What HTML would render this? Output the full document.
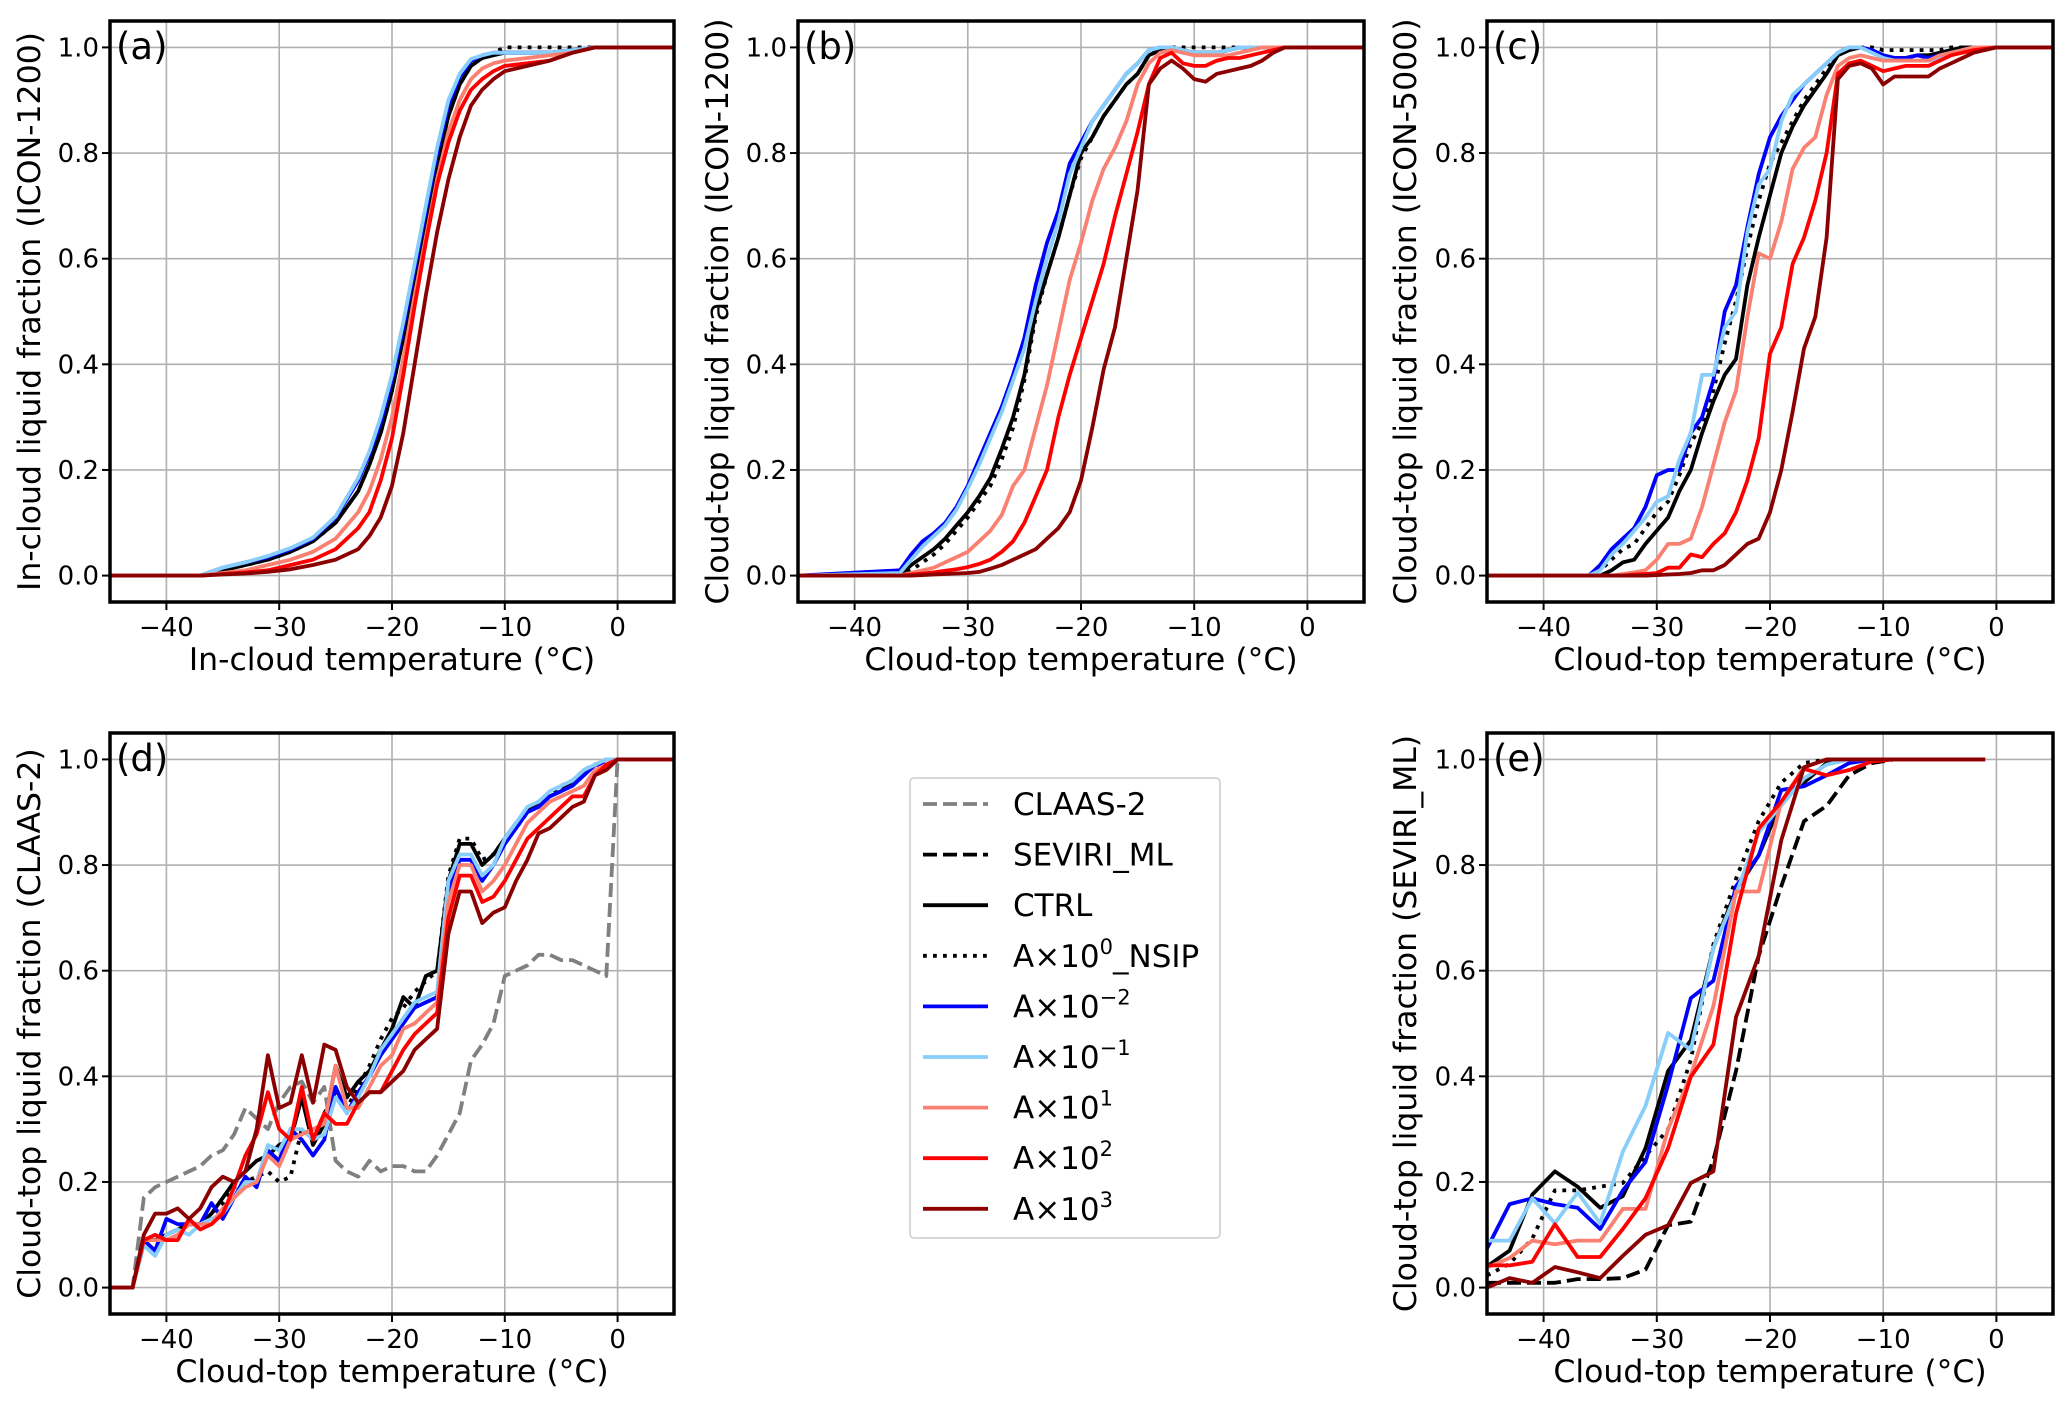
<!DOCTYPE html>
<html><head><meta charset="utf-8"><style>
html,body{margin:0;padding:0;background:#fff;}
svg{display:block;font-family:"DejaVu Sans","Liberation Sans",sans-serif;}
</style></head><body>
<svg id="fig" width="2067" height="1406" viewBox="0 0 2067 1406" xmlns="http://www.w3.org/2000/svg"></svg>
<script>
// ---- data ----
const xsA = [-45,-37,-35,-33,-31,-29,-27,-25,-23,-22,-21,-20,-19,-18,-17,-16,-15,-14,-13,-12,-11,-10,-8,-6,-4,-2,5];
const aCTRL = [0,0,0.01,0.02,0.03,0.045,0.065,0.1,0.16,0.21,0.27,0.35,0.45,0.56,0.67,0.78,0.87,0.93,0.965,0.98,0.985,0.99,0.99,0.99,0.995,1,1];
const aNSIP = [0,0,0.01,0.02,0.03,0.045,0.065,0.1,0.16,0.21,0.27,0.35,0.45,0.56,0.67,0.78,0.87,0.93,0.965,0.98,0.99,1,1,1,1,1,1];
const aM2 = [0,0,0.015,0.025,0.035,0.05,0.07,0.11,0.18,0.23,0.29,0.37,0.47,0.58,0.69,0.8,0.89,0.945,0.975,0.985,0.99,0.99,0.99,0.99,0.995,1,1];
const aM1 = [0,0,0.015,0.025,0.037,0.052,0.072,0.112,0.185,0.235,0.3,0.38,0.48,0.59,0.7,0.81,0.9,0.95,0.978,0.985,0.99,0.99,0.99,0.99,0.995,1,1];
const aP1 = [0,0,0.005,0.01,0.02,0.03,0.045,0.07,0.12,0.16,0.22,0.3,0.41,0.53,0.64,0.75,0.84,0.9,0.94,0.96,0.97,0.975,0.98,0.985,0.99,1,1];
const aP2 = [0,0,0.003,0.006,0.01,0.02,0.03,0.05,0.09,0.12,0.18,0.26,0.38,0.51,0.63,0.74,0.82,0.88,0.92,0.94,0.955,0.965,0.97,0.975,0.99,1,1];
const aP3 = [0,0,0.002,0.004,0.007,0.012,0.02,0.03,0.05,0.075,0.11,0.17,0.27,0.4,0.53,0.65,0.75,0.83,0.89,0.92,0.94,0.955,0.965,0.975,0.99,1,1];

const xsBC = [-45,-36,-35,-34,-33,-32,-31,-30,-29,-28,-27,-26,-25,-24,-23,-22,-21,-20,-19,-18,-17,-16,-15,-14,-13,-12,-11,-10,-9,-8,-7,-6,-5,-4,-3,-2,0,5];
const bM2 = [0,0.01,0.04,0.065,0.08,0.1,0.13,0.17,0.22,0.27,0.32,0.38,0.45,0.55,0.63,0.69,0.78,0.82,0.86,0.89,0.92,0.95,0.97,0.995,1,1,0.99,0.99,0.99,0.99,0.995,1,1,1,1,1,1,1];
const bM1 = [0,0.005,0.03,0.055,0.075,0.095,0.125,0.165,0.21,0.26,0.31,0.37,0.43,0.52,0.6,0.67,0.76,0.81,0.86,0.89,0.92,0.95,0.97,0.995,1,1,0.995,0.99,0.99,0.99,0.995,1,1,1,1,1,1,1];
const bCTRL = [0,0,0.02,0.035,0.05,0.07,0.095,0.12,0.15,0.185,0.24,0.3,0.38,0.5,0.57,0.64,0.72,0.8,0.83,0.87,0.9,0.93,0.95,0.985,0.995,1,0.995,0.99,0.99,0.99,0.995,1,1,1,1,1,1,1];
const bNSIP = [0,0,0.01,0.025,0.04,0.06,0.085,0.11,0.14,0.17,0.22,0.28,0.37,0.49,0.57,0.64,0.72,0.79,0.83,0.87,0.9,0.93,0.95,0.985,0.995,1,1,1,1,1,1,1,1,1,1,1,1,1];
const bP1 = [0,0,0.005,0.01,0.015,0.025,0.035,0.045,0.065,0.085,0.115,0.17,0.2,0.28,0.36,0.46,0.56,0.63,0.71,0.77,0.81,0.86,0.93,0.97,0.99,0.995,0.99,0.985,0.985,0.985,0.985,0.99,0.995,1,1,1,1,1];
const bP2 = [0,0,0.002,0.004,0.006,0.009,0.012,0.016,0.022,0.03,0.045,0.065,0.1,0.15,0.2,0.3,0.38,0.45,0.52,0.59,0.68,0.76,0.84,0.93,0.98,0.99,0.97,0.965,0.965,0.975,0.98,0.98,0.985,0.99,0.995,1,1,1];
const bP3 = [0,0,0,0.001,0.002,0.003,0.004,0.005,0.007,0.013,0.02,0.03,0.04,0.05,0.07,0.09,0.12,0.18,0.28,0.39,0.47,0.6,0.73,0.93,0.96,0.975,0.96,0.94,0.935,0.95,0.955,0.96,0.965,0.975,0.99,1,1,1];

const cM2 = [0,0,0.02,0.05,0.07,0.09,0.13,0.19,0.2,0.2,0.27,0.3,0.37,0.5,0.55,0.66,0.76,0.83,0.87,0.9,0.93,0.95,0.97,0.99,1,1,0.995,0.985,0.98,0.98,0.985,0.98,0.985,0.99,0.995,1,1,1];
const cM1 = [0,0,0.01,0.04,0.06,0.085,0.11,0.14,0.15,0.22,0.27,0.38,0.38,0.47,0.5,0.65,0.74,0.77,0.86,0.91,0.93,0.95,0.97,0.99,1,1,0.99,0.98,0.975,0.975,0.975,0.975,0.98,0.99,0.995,1,1,1];
const cCTRL = [0,0,0,0.01,0.025,0.03,0.06,0.085,0.11,0.16,0.2,0.27,0.33,0.38,0.41,0.55,0.64,0.72,0.8,0.85,0.89,0.92,0.95,0.985,0.995,1,0.995,0.985,0.98,0.98,0.985,0.985,0.99,0.995,1,1,1,1];
const cNSIP = [0,0,0.01,0.03,0.05,0.06,0.09,0.12,0.14,0.19,0.25,0.29,0.35,0.44,0.52,0.62,0.71,0.78,0.82,0.86,0.9,0.93,0.96,0.99,1,1,1,0.995,0.995,0.995,0.995,0.995,0.995,1,1,1,1,1];
const cP1 = [0,0,0,0,0.003,0.006,0.01,0.03,0.06,0.06,0.07,0.13,0.21,0.29,0.35,0.49,0.61,0.6,0.67,0.77,0.81,0.83,0.91,0.965,0.98,0.985,0.98,0.975,0.975,0.975,0.975,0.975,0.985,0.99,0.995,1,1,1];
const cP2 = [0,0,0,0,0,0.002,0.003,0.005,0.015,0.015,0.04,0.035,0.06,0.08,0.12,0.18,0.26,0.42,0.47,0.59,0.64,0.71,0.8,0.95,0.97,0.975,0.965,0.955,0.96,0.965,0.965,0.965,0.975,0.985,0.99,0.995,1,1];
const cP3 = [0,0,0,0,0,0,0,0.001,0.002,0.003,0.005,0.01,0.01,0.02,0.04,0.06,0.07,0.12,0.2,0.31,0.43,0.49,0.64,0.94,0.965,0.97,0.96,0.93,0.945,0.945,0.945,0.945,0.96,0.97,0.98,0.99,1,1];

const xsD = [-45,-44,-43,-42,-41,-40,-39,-38,-37,-36,-35,-34,-33,-32,-31,-30,-29,-28,-27,-26,-25,-24,-23,-22,-21,-20,-19,-18,-17,-16,-15,-14,-13,-12,-11,-10,-9,-8,-7,-6,-5,-4,-3,-2,-1,0,5];
const dCLAAS = [0,0,0,.17,.19,.2,.21,.22,.23,.25,.26,.29,.34,.32,.3,.35,.38,.39,.35,.38,.24,.22,.21,.24,.22,.23,.23,.22,.22,.25,.29,.33,.43,.46,.5,.59,.6,.61,.63,.63,.62,.62,.61,.6,.59,1,1];
const dCTRL = [0,0,0,.09,.09,.1,.11,.12,.12,.14,.17,.2,.22,.24,.25,.27,.28,.36,.27,.31,.42,.36,.39,.41,.45,.49,.55,.53,.59,.6,.77,.84,.84,.8,.82,.85,.88,.9,.92,.93,.94,.96,.97,.99,.99,1,1];
const dNSIP = [0,0,0,.09,.09,.1,.11,.12,.12,.14,.16,.19,.2,.21,.22,.2,.21,.3,.28,.33,.37,.34,.38,.42,.47,.51,.53,.56,.58,.6,.78,.85,.85,.81,.82,.85,.87,.9,.92,.93,.95,.96,.98,.99,1,1,1];
const dM2 = [0,0,0,.09,.07,.13,.12,.12,.12,.16,.13,.17,.21,.19,.26,.24,.3,.28,.25,.28,.38,.33,.37,.4,.44,.47,.5,.53,.54,.55,.75,.81,.81,.77,.8,.84,.87,.9,.91,.93,.94,.95,.97,.99,.99,1,1];
const dM1 = [0,0,0,.08,.06,.1,.11,.1,.12,.13,.14,.17,.2,.2,.27,.26,.3,.3,.28,.29,.36,.33,.36,.4,.45,.48,.51,.54,.55,.56,.77,.82,.82,.78,.8,.85,.88,.91,.92,.94,.95,.96,.98,.99,1,1,1];
const dP1 = [0,0,0,.09,.09,.09,.1,.12,.12,.12,.15,.17,.19,.2,.25,.23,.28,.29,.3,.31,.42,.34,.34,.38,.42,.44,.49,.5,.52,.54,.73,.8,.8,.75,.77,.8,.84,.88,.9,.92,.93,.94,.95,.98,.99,1,1];
const dP2 = [0,0,0,.09,.1,.09,.09,.13,.11,.12,.14,.19,.25,.29,.37,.3,.28,.38,.28,.33,.31,.31,.35,.37,.37,.41,.45,.48,.5,.52,.7,.78,.78,.73,.74,.77,.81,.85,.87,.89,.91,.93,.93,.97,.99,1,1];
const dP3 = [0,0,0,.1,.14,.14,.15,.13,.15,.19,.21,.2,.22,.3,.44,.34,.35,.44,.35,.46,.45,.38,.35,.37,.37,.39,.41,.45,.47,.49,.67,.75,.75,.69,.71,.72,.77,.81,.86,.87,.89,.91,.92,.97,.98,1,1];

const xsE = [-45,-43,-41,-39,-37,-35,-33,-31,-29,-27,-25,-23,-21,-19,-17,-15,-13,-11,-9,-7,-5,-3,-1];
const eSEV = [.009,.009,.009,.009,.016,.016,.018,.034,.118,.125,.242,.41,.628,.76,.883,.912,.97,.993,1,1,1,1,1];
const eCTRL = [.04,.07,.176,.22,.191,.151,.173,.264,.41,.468,.643,.752,.818,.92,.956,.993,1,1,1,1,1,1,1];
const eNSIP = [.023,.045,.093,.184,.184,.191,.198,.249,.3,.431,.65,.774,.883,.956,.993,1,1,1,1,1,1,1,1];
const eM2 = [.074,.158,.169,.158,.151,.111,.184,.238,.384,.548,.581,.76,.818,.942,.949,.97,.993,1,1,1,1,1,1];
const eM1 = [.089,.089,.169,.122,.18,.122,.257,.344,.482,.45,.643,.745,.862,.913,.964,.99,1,1,1,1,1,1,1];
const eP1 = [.038,.056,.089,.082,.089,.089,.149,.149,.3,.402,.533,.75,.75,.92,.985,1,1,1,1,1,1,1,1];
const eP2 = [.042,.042,.049,.12,.058,.058,.111,.169,.264,.399,.46,.708,.869,.92,.982,.97,.98,.996,1,1,1,1,1];
const eP3 = [0,.018,.009,.039,.029,.018,.06,.1,.118,.198,.22,.512,.628,.847,.985,1,1,1,1,1,1,1,1];

const xTicks = [-40,-30,-20,-10,0];
const yTicks = [0,0.2,0.4,0.6,0.8,1.0];
const yTickLabels = ["0.0","0.2","0.4","0.6","0.8","1.0"];

// ---- styles ----
const ST = {
  CLAAS:{c:"#808080",d:"14,6",n:"claas-2"},
  SEV:{c:"#000000",d:"14,6",n:"seviri-ml"},
  CTRL:{c:"#000000",d:null,n:"ctrl"},
  NSIP:{c:"#000000",d:"3.8,6.2",n:"nsip"},
  M2:{c:"#0000ff",d:null,n:"a-1e-2"},
  M1:{c:"#87cefa",d:null,n:"a-1e-1"},
  P1:{c:"#fa8072",d:null,n:"a-1e1"},
  P2:{c:"#ff0000",d:null,n:"a-1e2"},
  P3:{c:"#8b0000",d:null,n:"a-1e3"}
};
const NS="http://www.w3.org/2000/svg";
const svg=document.getElementById('fig');
function mk(tag,attrs,parent){const e=document.createElementNS(NS,tag);for(const k in attrs)e.setAttribute(k,attrs[k]);(parent||svg).appendChild(e);return e;}

const panels=[
 {id:"a",x0:110,x1:674,y0:21,y1:602,lab:"(a)",yl:"In-cloud liquid fraction (ICON-1200)",xl:"In-cloud temperature (°C)",ylx:30,
  series:[["CTRL",xsA,aCTRL],["NSIP",xsA,aNSIP],["M2",xsA,aM2],["M1",xsA,aM1],["P1",xsA,aP1],["P2",xsA,aP2],["P3",xsA,aP3]]},
 {id:"b",x0:798,x1:1364,y0:21,y1:602,lab:"(b)",yl:"Cloud-top liquid fraction (ICON-1200)",xl:"Cloud-top temperature (°C)",ylx:718,
  series:[["CTRL",xsBC,bCTRL],["NSIP",xsBC,bNSIP],["M2",xsBC,bM2],["M1",xsBC,bM1],["P1",xsBC,bP1],["P2",xsBC,bP2],["P3",xsBC,bP3]]},
 {id:"c",x0:1487,x1:2053,y0:21,y1:602,lab:"(c)",yl:"Cloud-top liquid fraction (ICON-5000)",xl:"Cloud-top temperature (°C)",ylx:1406,
  series:[["CTRL",xsBC,cCTRL],["NSIP",xsBC,cNSIP],["M2",xsBC,cM2],["M1",xsBC,cM1],["P1",xsBC,cP1],["P2",xsBC,cP2],["P3",xsBC,cP3]]},
 {id:"d",x0:110,x1:674,y0:733,y1:1314,lab:"(d)",yl:"Cloud-top liquid fraction (CLAAS-2)",xl:"Cloud-top temperature (°C)",ylx:30,
  series:[["CLAAS",xsD,dCLAAS],["CTRL",xsD,dCTRL],["NSIP",xsD,dNSIP],["M2",xsD,dM2],["M1",xsD,dM1],["P1",xsD,dP1],["P2",xsD,dP2],["P3",xsD,dP3]]},
 {id:"e",x0:1487,x1:2053,y0:733,y1:1314,lab:"(e)",yl:"Cloud-top liquid fraction (SEVIRI_ML)",xl:"Cloud-top temperature (°C)",ylx:1406,
  series:[["SEV",xsE,eSEV],["CTRL",xsE,eCTRL],["NSIP",xsE,eNSIP],["M2",xsE,eM2],["M1",xsE,eM1],["P1",xsE,eP1],["P2",xsE,eP2],["P3",xsE,eP3]]}
];

const defs=mk('defs',{});
panels.forEach(p=>{
  const sx=v=>p.x0+(v+45)/50*(p.x1-p.x0);
  const sy=v=>p.y1-(v+0.05)/1.1*(p.y1-p.y0);
  const g=mk('g',{});
  
  
  const cp=mk('clipPath',{id:'clip'+p.id},defs);
  mk('rect',{x:p.x0,y:p.y0,width:p.x1-p.x0,height:p.y1-p.y0},cp);
  const grid=mk('g',{},g);
  
  
  xTicks.forEach(t=>{mk('line',{x1:sx(t),x2:sx(t),y1:p.y0,y2:p.y1,stroke:"#b0b0b0","stroke-width":1.6},grid);});
  yTicks.forEach(t=>{mk('line',{x1:p.x0,x2:p.x1,y1:sy(t),y2:sy(t),stroke:"#b0b0b0","stroke-width":1.6},grid);});
  const sg=mk('g',{'clip-path':'url(#clip'+p.id+')'},g);
  p.series.forEach(([key,xs,ys])=>{
    const s=ST[key];
    const pts=xs.map((x,i)=>sx(x).toFixed(1)+','+sy(ys[i]).toFixed(1)).join(' ');
    const pl=mk('polyline',{points:pts,fill:"none",stroke:s.c,"stroke-width":3.8,"stroke-linejoin":"round"},sg);
    if(s.d)pl.setAttribute('stroke-dasharray',s.d);
    
    
  });
  const fr=mk('rect',{x:p.x0,y:p.y0,width:p.x1-p.x0,height:p.y1-p.y0,fill:"none",stroke:"#000","stroke-width":3.5},g);
  
  
  xTicks.forEach(t=>{
    mk('line',{x1:sx(t),x2:sx(t),y1:p.y1,y2:p.y1+8,stroke:"#000","stroke-width":2},g);
    const tx=mk('text',{x:sx(t),y:p.y1+34,"text-anchor":"middle","font-size":26,fill:"#000"},g);
    tx.textContent=(t<0?"\u2212"+(-t):String(t));
    
    
  });
  yTicks.forEach((t,i)=>{
    mk('line',{x1:p.x0-8,x2:p.x0,y1:sy(t),y2:sy(t),stroke:"#000","stroke-width":2},g);
    const tx=mk('text',{x:p.x0-11,y:sy(t)+9,"text-anchor":"end","font-size":26,fill:"#000"},g);
    tx.textContent=yTickLabels[i];
    
    
  });
  const xl=mk('text',{x:(p.x0+p.x1)/2,y:p.y1+68,"text-anchor":"middle","font-size":31.5,fill:"#000"},g);
  xl.textContent=p.xl;
  
  
  const cy=(p.y0+p.y1)/2;
  const yl=mk('text',{x:p.ylx,y:cy,"text-anchor":"middle","font-size":31.5,fill:"#000",transform:`rotate(-90 ${p.ylx} ${cy})`,"dominant-baseline":"central"},g);
  yl.textContent=p.yl;
  
  
  const pl=mk('text',{x:p.x0+6,y:p.y0+38,"font-size":37,fill:"#000"},g);
  pl.textContent=p.lab;
  
  
});

// legend
const lg=mk('g',{});


mk('rect',{x:910,y:778,width:310,height:460,rx:4,fill:"#fff",stroke:"#cccccc","stroke-width":1.5},lg);
const legItems=[["CLAAS",["CLAAS-2"]],["SEV",["SEVIRI_ML"]],["CTRL",["CTRL"]],["NSIP",["A×10","0","_NSIP"]],["M2",["A×10","\u22122",""]],["M1",["A×10","\u22121",""]],["P1",["A×10","1",""]],["P2",["A×10","2",""]],["P3",["A×10","3",""]]];
legItems.forEach(([key,parts],i)=>{
  const s=ST[key];const y=804+i*50.6;
  const ln=mk('line',{x1:923,x2:988,y1:y,y2:y,stroke:s.c,"stroke-width":3.8},lg);
  if(s.d)ln.setAttribute('stroke-dasharray',s.d);
  const t=mk('text',{x:1013,y:y+11,"font-size":31,fill:"#000"},lg);
  
  
  if(parts.length===1){t.textContent=parts[0];}
  else{
    const a=mk('tspan',{},t);a.textContent=parts[0];
    const b=mk('tspan',{dy:-13,"font-size":21},t);b.textContent=parts[1];
    if(parts[2]){const c=mk('tspan',{dy:13},t);c.textContent=parts[2];}
  }
});
</script>
</body></html>
